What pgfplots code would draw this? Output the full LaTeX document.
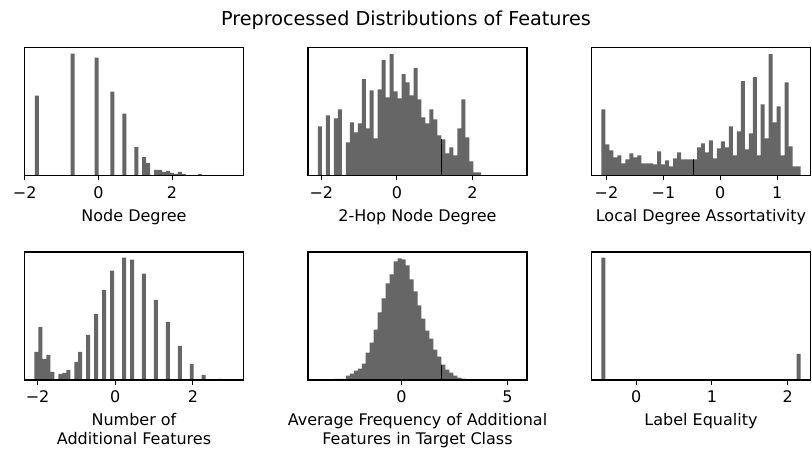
\documentclass[border=0pt]{standalone}
\usepackage{fontspec}
\setmainfont{DejaVu Sans}
\usepackage{pgfplots}
\pgfplotsset{compat=1.18}

\definecolor{barc}{HTML}{666666}

\pgfplotsset{
  histpanel/.style={
    scale only axis, width=164.25pt, height=96pt,
    anchor=south west,
    ymin=0, ymax=383, ytick=\empty,
    xtick pos=left, tick align=outside,
    major tick length=3.5pt,
    every tick/.style={black, line width=0.8pt},
    axis line style={line width=0.8pt},
    axis on top,
    tick label style={font=\fontsize{12}{14.4}\selectfont},
    xticklabel style={anchor=north, inner sep=0pt, yshift=-4.5pt},
    label style={font=\fontsize{12}{14}\selectfont},
    xlabel style={at={(axis description cs:0.5,0)}, anchor=north,
      inner sep=0pt, yshift=-25pt, align=center},
  },
  hist/.style={ybar interval, fill=barc, draw=none},
  edge/.style={ycomb, black, line width=0.7pt},
}

\begin{document}
\begin{tikzpicture}
\useasboundingbox (0,0) rectangle (609pt,339.75pt);

\node[anchor=north, inner sep=0pt, font=\fontsize{14.4}{17}\selectfont]
  at (304.5pt,332pt) {Preprocessed Distributions of Features};

% ---- Node Degree
\begin{axis}[histpanel, at={(18.375pt,208.125pt)},
  xmin=-2.005, xmax=3.94, xtick={-2,0,2}, xticklabels={−2,0,2},
  xlabel={Node Degree}]
\addplot[hist] table {
-1.720 239
-1.612 0
-1.504 0
-1.397 0
-1.289 0
-1.181 0
-1.073 0
-0.965 0
-0.858 0
-0.750 365
-0.642 0
-0.534 0
-0.426 0
-0.319 0
-0.211 0
-0.103 353
0.005 0
0.113 0
0.220 0
0.328 251
0.436 0
0.544 0
0.652 185
0.759 0
0.867 0
0.975 86
1.083 0
1.191 56
1.298 38
1.406 0
1.514 17
1.622 17
1.730 11
1.837 14
1.945 8
2.053 5
2.161 11
2.269 5
2.376 0
2.484 0
2.592 0
2.700 5
2.808 0
};
\end{axis}

% ---- 2-Hop Node Degree
\begin{axis}[histpanel, at={(231pt,208.125pt)},
  xmin=-2.354, xmax=3.444, xtick={-2,0,2}, xticklabels={−2,0,2},
  xlabel={2-Hop Node Degree}]
\addplot[hist] table {
-2.090 147
-1.985 0
-1.879 180
-1.774 0
-1.668 171
-1.563 198
-1.458 0
-1.352 99
-1.247 159
-1.141 129
-1.036 156
-0.931 288
-0.825 141
-0.720 255
-0.614 111
-0.509 258
-0.404 345
-0.298 234
-0.193 363
-0.087 252
0.018 231
0.123 303
0.229 279
0.334 240
0.440 321
0.545 228
0.650 174
0.756 156
0.861 198
0.967 168
1.072 120
1.177 108
1.283 66
1.388 84
1.494 60
1.599 141
1.704 228
1.810 114
1.915 42
2.021 9
2.126 9
2.231 0
};
\addplot[edge] coordinates {(1.177,108)};
\end{axis}

% ---- Local Degree Assortativity
\begin{axis}[histpanel, at={(443.625pt,208.125pt)},
  xmin=-2.264, xmax=1.586, xtick={-2,-1,0,1}, xticklabels={−2,−1,0,1},
  xlabel={Local Degree Assortativity}]
\addplot[hist] table {
-2.089 198
-2.019 93
-1.949 75
-1.879 54
-1.809 60
-1.739 36
-1.669 48
-1.599 66
-1.529 54
-1.459 60
-1.389 36
-1.319 36
-1.249 36
-1.179 33
-1.109 72
-1.039 33
-0.969 45
-0.899 27
-0.829 51
-0.759 69
-0.689 48
-0.619 48
-0.549 48
-0.479 48
-0.409 84
-0.339 96
-0.269 69
-0.199 105
-0.129 51
-0.059 81
0.011 102
0.081 84
0.151 147
0.221 60
0.291 132
0.361 282
0.431 78
0.501 126
0.571 294
0.641 60
0.711 213
0.781 111
0.851 363
0.921 159
0.991 207
1.061 60
1.131 279
1.201 87
1.271 27
1.341 27
1.411 0
};
\addplot[edge] coordinates {(-0.479,48)};
\end{axis}

% ---- Number of Additional Features
\begin{axis}[histpanel, at={(18.375pt,54.75pt)},
  xmin=-2.336, xmax=3.301, xtick={-2,0,2}, xticklabels={−2,0,2},
  xlabel={Number of\\Additional Features}]
\addplot[hist] table {
-2.080 84
-1.978 159
-1.875 63
-1.773 75
-1.670 24
-1.568 0
-1.465 18
-1.363 21
-1.260 30
-1.158 0
-1.055 54
-0.953 84
-0.850 0
-0.748 135
-0.645 0
-0.543 198
-0.440 0
-0.338 270
-0.235 0
-0.133 327
-0.030 0
0.073 0
0.175 366
0.278 0
0.380 360
0.483 0
0.585 0
0.688 318
0.790 0
0.893 0
0.995 240
1.098 0
1.200 0
1.303 174
1.405 0
1.508 0
1.610 102
1.713 0
1.815 0
1.918 48
2.020 0
2.123 0
2.225 15
2.328 0
2.430 0
2.533 0
2.635 3
2.738 0
};
\end{axis}

% ---- Average Frequency of Additional Features in Target Class
\begin{axis}[histpanel, at={(231pt,54.75pt)},
  xmin=-4.409, xmax=5.919, xtick={0,5}, xticklabels={0,5},
  xlabel={Average Frequency of Additional\\Features in Target Class}]
\addplot[hist] table {
-3.940 1
-3.752 1
-3.564 1
-3.377 1
-3.189 3
-3.001 3
-2.813 3
-2.625 13
-2.438 19
-2.250 28
-2.062 34
-1.874 49
-1.686 82
-1.499 112
-1.311 151
-1.123 202
-0.935 244
-0.747 289
-0.560 316
-0.372 355
-0.184 364
0.004 361
0.192 343
0.379 301
0.567 265
0.755 223
0.943 184
1.131 148
1.318 124
1.506 91
1.694 70
1.882 46
2.070 31
2.257 22
2.445 13
2.633 7
2.821 4
3.009 2
3.196 2
3.384 1
3.572 1
3.760 1
3.948 0
};
\addplot[edge] coordinates {(1.882,46)};
\end{axis}

% ---- Label Equality
\begin{axis}[histpanel, at={(443.625pt,54.75pt)},
  xmin=-0.5905, xmax=2.3025, xtick={0,1,2}, xticklabels={0,1,2},
  xlabel={Label Equality}]
\addplot[hist] table {
-0.459 366
-0.406 0
2.118 78
2.171 0
};
\end{axis}
\end{tikzpicture}
\end{document}
